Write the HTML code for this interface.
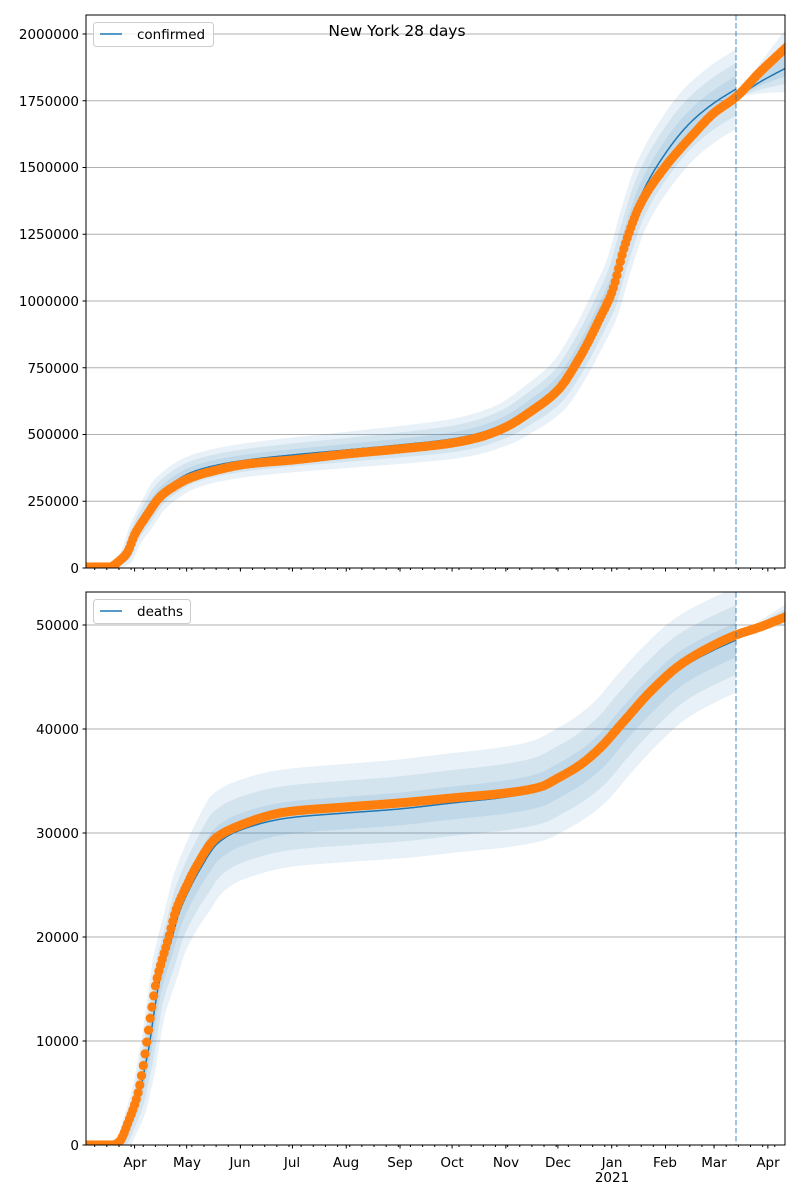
<!DOCTYPE html>
<html><head><meta charset="utf-8"><style>
html,body{margin:0;padding:0;background:#fff;}
svg{display:block;font-family:"DejaVu Sans","Liberation Sans",sans-serif;}
</style></head><body>
<svg id="s" width="800" height="1200" xmlns="http://www.w3.org/2000/svg">
<defs>
<clipPath id="c1"><rect x="86" y="15" width="699" height="553"/></clipPath>
<clipPath id="c2"><rect x="86" y="592" width="699" height="553"/></clipPath>
</defs>
<g id="grid" stroke="#b0b0b0" stroke-width="1"></g>
<g id="p1" clip-path="url(#c1)"></g>
<g id="p2" clip-path="url(#c2)"></g>
<g id="ax" stroke="#000" stroke-width="1" fill="none"></g>
<g font-size="13.5" fill="#000" text-anchor="end">
<text x="79" y="573">0</text>
<text x="79" y="506">250000</text>
<text x="79" y="439">500000</text>
<text x="79" y="373">750000</text>
<text x="79" y="306">1000000</text>
<text x="79" y="239">1250000</text>
<text x="79" y="172">1500000</text>
<text x="79" y="106">1750000</text>
<text x="79" y="39">2000000</text>
<text x="79" y="1150">0</text>
<text x="79" y="1046">10000</text>
<text x="79" y="942">20000</text>
<text x="79" y="838">30000</text>
<text x="79" y="734">40000</text>
<text x="79" y="630">50000</text>
</g>
<g font-size="13.5" fill="#000" text-anchor="middle">
<text x="135" y="1167">Apr</text>
<text x="187" y="1167">May</text>
<text x="240" y="1167">Jun</text>
<text x="292" y="1167">Jul</text>
<text x="346" y="1167">Aug</text>
<text x="400" y="1167">Sep</text>
<text x="452" y="1167">Oct</text>
<text x="506" y="1167">Nov</text>
<text x="558" y="1167">Dec</text>
<text x="612" y="1167">Jan</text>
<text x="612" y="1182">2021</text>
<text x="665" y="1167">Feb</text>
<text x="714" y="1167">Mar</text>
<text x="768" y="1167">Apr</text>
<text x="397" y="36" font-size="15.5">New York 28 days</text>
</g>
<g>
<rect x="93.5" y="22.5" width="120" height="24" rx="3" fill="#fff" fill-opacity="0.8" stroke="#ccc"/>
<line x1="100" y1="34" x2="122" y2="34" stroke="#1f77b4" stroke-width="1.6"/>
<text x="137" y="39" font-size="13.5">confirmed</text>
<rect x="93.5" y="599.5" width="97" height="24" rx="3" fill="#fff" fill-opacity="0.8" stroke="#ccc"/>
<line x1="100" y1="611" x2="122" y2="611" stroke="#1f77b4" stroke-width="1.6"/>
<text x="137" y="616" font-size="13.5">deaths</text>
</g>
</svg>
<script>
(function(){
var NS="http://www.w3.org/2000/svg";
function el(p,t,a){var e=document.createElementNS(NS,t);for(var k in a)e.setAttribute(k,a[k]);p.appendChild(e);return e;}
function mono(pts){
 var n=pts.length,xs=pts.map(function(p){return p[0];}),ys=pts.map(function(p){return p[1];});
 var d=[],m=[];for(var i=0;i<n-1;i++)d.push((ys[i+1]-ys[i])/(xs[i+1]-xs[i]));
 m[0]=d[0];m[n-1]=d[n-2];
 for(var i=1;i<n-1;i++){if(d[i-1]*d[i]<=0)m[i]=0;else{var w1=2*(xs[i+1]-xs[i])+(xs[i]-xs[i-1]),w2=(xs[i+1]-xs[i])+2*(xs[i]-xs[i-1]);m[i]=(w1+w2)/(w1/d[i-1]+w2/d[i]);}}
 return function(x){
  if(x<=xs[0])return ys[0];if(x>=xs[n-1])return ys[n-1]+m[n-1]*(x-xs[n-1]);
  var i=0;while(x>xs[i+1])i++;
  var h=xs[i+1]-xs[i],t=(x-xs[i])/h,t2=t*t,t3=t2*t;
  return (2*t3-3*t2+1)*ys[i]+(t3-2*t2+t)*h*m[i]+(-2*t3+3*t2)*ys[i+1]+(t3-t2)*h*m[i+1];
 };
}
function lin(pts){return function(x){if(x<=pts[0][0])return pts[0][1];for(var i=1;i<pts.length;i++){if(x<=pts[i][0]){var a=pts[i-1],b=pts[i];return a[1]+(b[1]-a[1])*(x-a[0])/(b[0]-a[0]);}}return pts[pts.length-1][1];};}
var X0=86,DX=1.735;
var g=document.getElementById('grid');
[568,501.25,434.5,367.75,301,234.25,167.5,100.75,34].forEach(function(y){el(g,'line',{x1:86,x2:785,y1:y,y2:y});});
[1145,1041,937,833,729,625].forEach(function(y){el(g,'line',{x1:86,x2:785,y1:y,y2:y});});
var ax=document.getElementById('ax');
el(ax,'rect',{x:86,y:15,width:699,height:553});
el(ax,'rect',{x:86,y:592,width:699,height:553});
[568,1145].forEach(function(yb){
 for(var d=5;d<=404;d+=7){var x=X0+d*DX;if(x>785)break;el(ax,'line',{x1:x,x2:x,y1:yb,y2:yb+2});}
 [28,58,89,119,150,181,211,242,272,303,334,362,393].forEach(function(d){var x=X0+d*DX;el(ax,'line',{x1:x,x2:x,y1:yb,y2:yb+3.5});});
});
[568,501.25,434.5,367.75,301,234.25,167.5,100.75,34,1145,1041,937,833,729,625].forEach(function(y){el(ax,'line',{x1:82.5,x2:86,y1:y,y2:y});});
function panel(gid,base,orange,blue,vband,fc,fv,h){
 var G=document.getElementById(gid);
 var O=mono(orange),B=mono(blue),V=lin(vband),FC=mono(fc),FV=lin(fv);
 var xs=[];for(var x=86;x<=736;x+=1)xs.push(x);
 [1,0.66,0.33].forEach(function(f){
  var up=[],lo=[];
  xs.forEach(function(x){var v=V(x)*f;up.push([x,Math.min(base,B(x+h*f))-v]);lo.push([x,Math.min(base,B(x-h*f)+v)]);});
  var d='M'+up.map(function(p){return p[0].toFixed(1)+','+p[1].toFixed(1);}).join('L')+'L'+lo.reverse().map(function(p){return p[0].toFixed(1)+','+p[1].toFixed(1);}).join('L')+'Z';
  el(G,'path',{d:d,fill:'#1f77b4','fill-opacity':0.1});
  var up2=[],lo2=[];
  for(var x=736;x<=786;x+=1){var v=FV(x)*f;var y=FC(x);up2.push([x,y-v*1.3]);lo2.push([x,y+v*0.8]);}
  d='M'+up2.map(function(p){return p[0]+','+p[1].toFixed(1);}).join('L')+'L'+lo2.reverse().map(function(p){return p[0]+','+p[1].toFixed(1);}).join('L')+'Z';
  el(G,'path',{d:d,fill:'#1f77b4','fill-opacity':0.1});
 });
 var d='';for(var x=86;x<=736;x++)d+=(x==86?'M':'L')+x+','+Math.min(base,B(x)).toFixed(1);
 el(G,'path',{d:d,fill:'none',stroke:'#1f77b4','stroke-width':1.5});
 d='';for(var x=736;x<=786;x++)d+=(x==736?'M':'L')+x+','+FC(x).toFixed(1);
 el(G,'path',{d:d,fill:'none',stroke:'#1f77b4','stroke-width':1.5});
 for(var k=0;k<=404;k++){var x=X0+k*DX;if(x>790)break;el(G,'circle',{cx:x.toFixed(1),cy:Math.min(base,O(x)).toFixed(1),r:4.6,fill:'#ff7f0e'});}
 el(G,'line',{x1:736,x2:736,y1:base-553,y2:base,stroke:'#1f77b4','stroke-opacity':0.55,'stroke-width':1.5,'stroke-dasharray':'5.5,2.5'});
}
var oc=[[86,567],[110,567],[118,562],[127,553],[135,534],[147,515],[160,497],[173,487],[190,478],[213,471],[247,464],[292,460],[346,454],[399,449],[452,443],[480,437],[506,427],[530,412],[558,390],[580,357],[600,318],[612,292],[625,245],[640,205],[665,167],[690,138],[714,113],[736,97],[760,72],[790,44]];
var bc=[[86,567],[110,567],[118,562],[127,553],[135,533],[147,513],[160,494],[173,483],[190,473],[213,466],[247,460],[292,455],[346,450],[399,445],[452,439],[480,433],[506,423],[530,408],[558,386],[580,353],[600,314],[612,288],[625,243],[640,198],[665,154],[690,123],[714,103],[736,89]];
var vc=[[86,0],[112,0],[130,8],[150,15],[300,17],[500,20],[600,28],[680,35],[736,37]];
var fcC=[[736,98],[760,82],[786,68]];
var fvC=[[736,0],[786,30]];
panel('p1',568,oc,bc,vc,fcC,fvC,5);
var od=[[86,1145],[113,1145],[119,1142],[129,1120],[138,1093],[143,1067],[146,1047],[151,1013],[156,983],[163,957],[168,940],[176,910],[186,887],[196,867],[216,838],[236,827],[286,812],[346,807],[399,803],[452,798],[506,793],[540,787],[558,778],[580,765],[600,748],[625,720],[650,692],[680,665],[714,645],[736,635],[760,627],[790,615]];
var bd=[[86,1145],[115,1145],[122,1141],[131,1119],[140,1092],[145,1067],[149,1047],[154,1013],[159,983],[166,957],[171,941],[179,913],[189,890],[199,871],[218,843],[238,831],[288,818],[346,813],[399,809],[452,803],[506,797],[540,790],[558,781],[580,768],[600,752],[625,723],[650,696],[680,669],[714,650],[736,640]];
var vd=[[86,0],[117,0],[140,15],[170,35],[210,48],[600,50],[736,50]];
var fcD=[[736,636],[760,627],[786,617]];
var fvD=[[736,0],[786,10]];
panel('p2',1145,od,bd,vd,fcD,fvD,6);
})();
</script>
</body></html>
